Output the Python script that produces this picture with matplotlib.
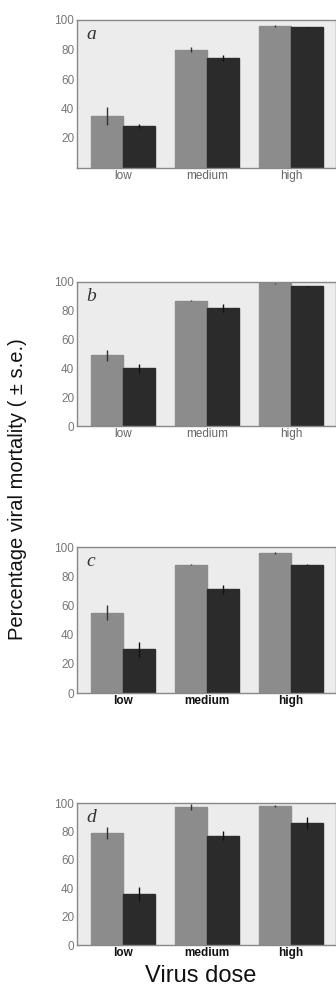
import matplotlib
matplotlib.use("Agg")
import matplotlib.pyplot as plt
import numpy as np

doses = ["low", "medium", "high"]
panels = ["a", "b", "c", "d"]
gray_vals = {
    "a": [35, 80, 96],
    "b": [49, 87, 99],
    "c": [55, 88, 96],
    "d": [79, 97, 98],
}
gray_err = {
    "a": [6, 2, 0.5],
    "b": [4, 0.5, 0.5],
    "c": [5, 0.5, 0.5],
    "d": [4, 2, 0.5],
}
dark_vals = {
    "a": [28, 74, 95],
    "b": [40, 82, 97],
    "c": [30, 71, 88],
    "d": [36, 77, 86],
}
dark_err = {
    "a": [1.5, 2, 0.5],
    "b": [3, 3, 0.5],
    "c": [5, 3, 0.5],
    "d": [5, 3, 4],
}

W, H = 336, 991
fig = plt.figure(figsize=(W / 100, H / 100), dpi=100)
fig.patch.set_facecolor("white")

# axes boxes in pixels: (left, top, right, bottom)
boxes = {
    "a": (77, 20, 336, 167.5),
    "b": (77, 282, 336, 426),
    "c": (77, 547, 336, 693),
    "d": (77, 803, 336, 945),
}

x = np.arange(len(doses))
bw = 0.38
for p in panels:
    l, t, r, b = boxes[p]
    ax = fig.add_axes([l / W, 1 - b / H, (r - l) / W, (b - t) / H])
    ax.set_facecolor("#ececec")
    ax.bar(x - bw / 2, gray_vals[p], bw, color="#8c8c8c", edgecolor="#8c8c8c",
           yerr=gray_err[p], ecolor="#333333", error_kw=dict(elinewidth=1, capsize=0))
    ax.bar(x + bw / 2, dark_vals[p], bw, color="#2b2b2b", edgecolor="#2b2b2b",
           yerr=dark_err[p], ecolor="#111111", error_kw=dict(elinewidth=1, capsize=0))
    ax.set_xlim(-0.548, 2.536)
    ax.set_ylim(0, 100)
    if p == "a":
        ax.set_yticks([20, 40, 60, 80, 100])
    else:
        ax.set_yticks([0, 20, 40, 60, 80, 100])
    ax.set_xticks(x)
    lab_color = "#666666" if p in ("a", "b") else "#111111"
    ax.set_xticklabels(doses, fontsize=8.5, color=lab_color,
                       family=["Liberation Sans", "DejaVu Sans"],
                       fontweight="bold" if p in ("c", "d") else "normal")
    ax.tick_params(axis="y", labelsize=8.5, labelcolor="#777777", length=0, pad=2)
    ax.tick_params(axis="x", length=0, pad=1.5)
    for lab in ax.get_yticklabels():
        lab.set_family(["Liberation Sans", "DejaVu Sans"])
    for s in ax.spines.values():
        s.set_color("#888888")
        s.set_linewidth(1)
    ax.text(0.035, 0.96, p, transform=ax.transAxes, fontsize=14, style="italic",
            family=["Liberation Serif", "DejaVu Serif"], color="#333333",
            va="top", ha="left")

fig.text(18 / W, 1 - 489 / H, "Percentage viral mortality ( ± s.e.)", rotation=90,
         ha="center", va="center", fontsize=14.5,
         family=["Liberation Sans", "DejaVu Sans"], color="#111111")
fig.text(201 / W, 1 - 976 / H, "Virus dose", ha="center", va="center",
         fontsize=17, family=["Liberation Sans", "DejaVu Sans"], color="#111111")

fig.savefig("out.png", dpi=100, facecolor="white")
